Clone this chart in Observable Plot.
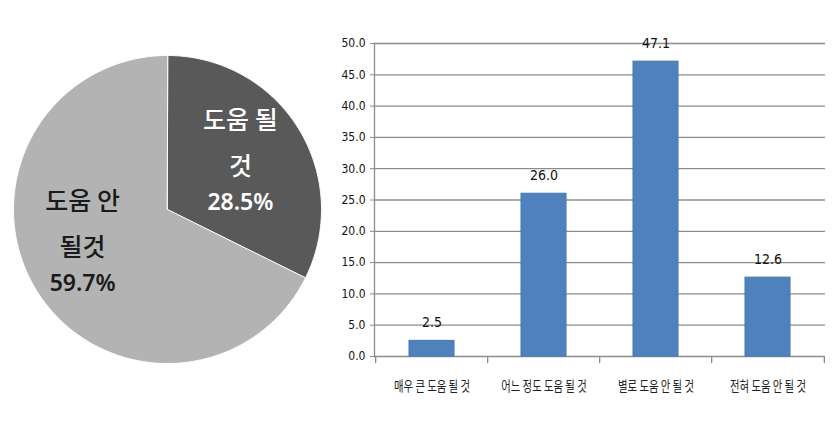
<!DOCTYPE html>
<html>
<head>
<meta charset="utf-8">
<script src="https://cdn.jsdelivr.net/npm/d3@7"></script>
<script src="https://cdn.jsdelivr.net/npm/@observablehq/plot@0.6"></script>
<style>
  html, body { margin: 0; padding: 0; background: #fff; }
  #wrap { position: relative; width: 834px; height: 446px; background: #fff; overflow: hidden; }
  #pie, #bars { position: absolute; top: 0; }
  #pie { left: 0; }
  #bars { left: 330px; }
</style>
</head>
<body>
<div id="wrap"><div id="pie"></div><div id="bars"></div></div>
<script>
// Pie: expected usefulness (two groups)
const pieNames = ["도움 될 것", "도움 안 될 것"];
const pieLines = ["도움 될\n것", "도움 안\n될것"];
const pieValues = [28.5, 59.7];
const pieColors = ["#595959", "#b3b3b3"];
const pieTextColors = ["#ffffff", "#1a1a1a"];

// Bars: four-level answer distribution (%)
const barCategories = ["매우 큰 도움 될 것", "어느 정도 도움 될 것", "별로 도움 안 될 것", "전혀 도움 안 될 것"];
const barValues = [2.5, 26.0, 47.1, 12.6];
const yTicks = [0, 5, 10, 15, 20, 25, 30, 35, 40, 45, 50];

const korean = "'Noto Sans CJK KR', 'Noto Sans', sans-serif";
const narrow = "'Liberation Sans Narrow', 'DejaVu Sans Condensed', 'Liberation Sans', sans-serif";

// ---------- pie ----------
const arcs = d3.pie().sort(null).value(d => d.value)(
  pieNames.map((name, i) => ({name, value: pieValues[i], lines: pieLines[i], fill: pieColors[i], color: pieTextColors[i]}))
);
// polygon outline of each slice in unit coordinates (y up, angle clockwise from 12 o'clock)
const slicePoints = arcs.map(a => {
  const pts = [{x: 0, y: 0}];
  const n = Math.max(2, Math.ceil((a.endAngle - a.startAngle) / 0.01));
  for (let k = 0; k <= n; k++) {
    const t = a.startAngle + (a.endAngle - a.startAngle) * k / n;
    pts.push({x: Math.sin(t), y: Math.cos(t)});
  }
  return pts;
});
// data labels sit along each slice's mid-angle, with a small best-fit nudge (px)
const labelR = 0.58;
const labelNudge = [[-3, 3], [-9, -10]];
const pieLabels = arcs.map(a => {
  const m = (a.startAngle + a.endAngle) / 2;
  return {x: labelR * Math.sin(m), y: labelR * Math.cos(m), lines: a.data.lines,
          pct: a.data.value.toFixed(1) + "%", color: a.data.color};
});

const pie = Plot.plot({
  width: 334, height: 446,
  marginLeft: 13, marginRight: 13, marginTop: 55, marginBottom: 83,
  x: {domain: [-1, 1], axis: null},
  y: {domain: [-1, 1], axis: null},
  style: {background: "transparent"},
  marks: [
    ...slicePoints.map((pts, i) => Plot.line(pts, {
      x: "x", y: "y", curve: "linear-closed",
      fill: arcs[i].data.fill, stroke: "#ffffff", strokeWidth: 1
    })),
    ...pieLabels.flatMap((d, i) => [
      Plot.text([d], {
        x: "x", y: "y", text: "lines", fill: "color", lineAnchor: "middle",
        lineHeight: 1.84, dx: labelNudge[i][0], dy: labelNudge[i][1] - 28.5,
        fontSize: 25, fontFamily: korean, fontWeight: 500
      }),
      Plot.text([d], {
        x: "x", y: "y", text: "pct", fill: "color",
        dx: labelNudge[i][0], dy: labelNudge[i][1] + 37.5,
        fontSize: 23, fontFamily: "'Noto Sans', sans-serif", fontWeight: 600
      })
    ])
  ]
});
document.getElementById("pie").appendChild(pie);

// ---------- bars ----------
const bars = barCategories.map((c, i) => ({cat: c, value: barValues[i]}));
const W = 504, ML = 44, MR = 9;
const step = (W - ML - MR) / barCategories.length;
const axisGray = "#8c8c8c";

const chart = Plot.plot({
  width: W, height: 446,
  marginLeft: ML, marginRight: MR, marginTop: 43, marginBottom: 90,
  style: {background: "transparent"},
  x: {domain: barCategories, paddingInner: 0.6, paddingOuter: 0.3, label: null},
  y: {domain: [0, 50], label: null},
  marks: [
    Plot.ruleY(yTicks, {stroke: axisGray, strokeWidth: 1.3}),
    Plot.frame({anchor: "left", stroke: axisGray, strokeWidth: 1.3}),
    Plot.ruleX(barCategories, {x: d => d, y1: 0, y2: 0, insetBottom: -7, dx: -step / 2, stroke: axisGray, strokeWidth: 1.3}),
    Plot.ruleX(barCategories.slice(-1), {x: d => d, y1: 0, y2: 0, insetBottom: -7, dx: step / 2, stroke: axisGray, strokeWidth: 1.3}),
    Plot.barY(bars, {x: "cat", y: "value", fill: "#4f81bd", stroke: "#4577b3", strokeWidth: 1}),
    Plot.text(bars, {
      x: "cat", y: "value", text: d => d.value.toFixed(1), dy: -18,
      fontSize: 14, fontFamily: narrow, fill: "#111"
    }),
    Plot.axisY({
      ticks: yTicks, tickFormat: d => d.toFixed(1), tickSize: 4, tickPadding: 5,
      stroke: axisGray, fontSize: 12, fontFamily: narrow, color: "#111", label: null
    }),
    Plot.axisX({
      tickSize: 0, tickPadding: 25, fontSize: 14, fontFamily: korean, color: "#222", label: null
    })
  ]
});
document.getElementById("bars").appendChild(chart);
// category labels are set in a condensed face: squeeze each one horizontally
chart.querySelectorAll("text").forEach(t => {
  if (!barCategories.includes(t.textContent)) return;
  const len = t.getComputedTextLength();
  t.setAttribute("lengthAdjust", "spacingAndGlyphs");
  t.setAttribute("textLength", (len * 0.74).toFixed(1));
});
</script>
</body>
</html>
